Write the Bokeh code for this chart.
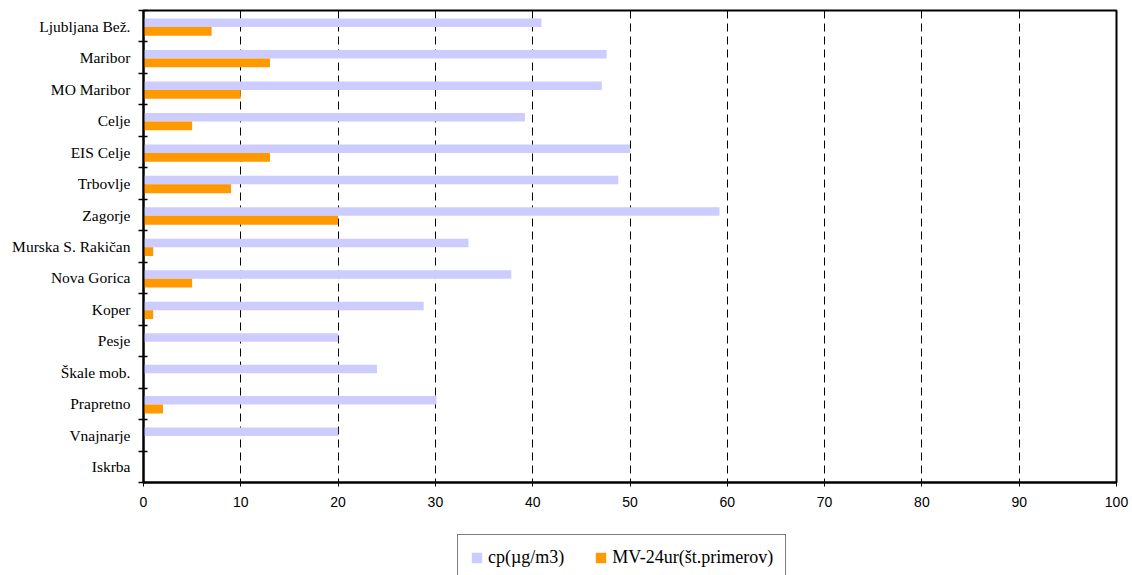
from bokeh.plotting import figure
from bokeh.layouts import column
from bokeh.models import Range1d, FixedTicker, Legend, LegendItem, ColumnDataSource
from bokeh.transform import dodge
from bokeh.embed import file_html
from bokeh.resources import INLINE

stations = ["Ljubljana Bež.", "Maribor", "MO Maribor", "Celje", "EIS Celje", "Trbovlje",
            "Zagorje", "Murska S. Rakičan", "Nova Gorica", "Koper", "Pesje", "Škale mob.",
            "Prapretno", "Vnajnarje", "Iskrba"]
cp = [40.9, 47.6, 47.1, 39.2, 50.0, 48.8, 59.2, 33.4, 37.8, 28.8, 20.0, 24.0, 30.1, 20.0, 0.0]
mv = [7, 13, 10, 5, 13, 9, 20, 1, 5, 1, 0, 0, 2, 0, 0]
x_ticks = [0, 10, 20, 30, 40, 50, 60, 70, 80, 90, 100]
series_labels = ["cp(µg/m3)", "MV-24ur(št.primerov)"]
colors = ["#CCCCFF", "#FF9900"]

n = len(stations)
ypos = list(range(n))
src = ColumnDataSource(dict(station=stations, y=ypos, cp=cp, mv=mv))

p = figure(width=1132, height=530, output_backend="svg", toolbar_location=None,
           x_range=Range1d(0, 100), y_range=Range1d(n - 0.5, -0.5),
           min_border_left=143, min_border_right=16, min_border_top=10, min_border_bottom=48,
           background_fill_color="white", border_fill_color="white")

r1 = p.hbar(y=dodge("y", -0.11, range=p.y_range), right="cp", left=0, height=0.27,
            source=src, fill_color=colors[0], line_color=None)
r2 = p.hbar(y=dodge("y", 0.165, range=p.y_range), right="mv", left=0, height=0.28,
            source=src, fill_color=colors[1], line_color=None)

# x axis
p.xaxis.ticker = FixedTicker(ticks=x_ticks)
p.xaxis.major_tick_in = 0
p.xaxis.major_tick_out = 4
p.xaxis.minor_tick_line_color = None
p.xaxis.major_label_standoff = 10
p.xaxis.major_label_text_font = "Liberation Sans"
p.xaxis.major_label_text_font_size = "14px"
p.xaxis.major_label_text_color = "black"
p.xaxis.axis_line_width = 2
p.xaxis.axis_line_color = "black"
p.xaxis.major_tick_line_color = "black"

# y axis
p.yaxis.ticker = FixedTicker(ticks=ypos, minor_ticks=[i - 0.5 for i in range(n + 1)])
p.yaxis.major_label_overrides = {i: s for i, s in zip(ypos, stations)}
p.yaxis.major_tick_in = 0
p.yaxis.major_tick_out = 0
p.yaxis.minor_tick_in = 4
p.yaxis.minor_tick_out = 5
p.yaxis.minor_tick_line_color = "black"
p.yaxis.minor_tick_line_width = 1.5
p.yaxis.major_label_standoff = 8
p.yaxis.major_label_text_font = "Liberation Serif"
p.yaxis.major_label_text_font_size = "15.5px"
p.yaxis.major_label_text_color = "black"
p.yaxis.axis_line_width = 2
p.yaxis.axis_line_color = "black"

# grid
p.xgrid.ticker = FixedTicker(ticks=x_ticks)
p.xgrid.grid_line_color = "black"
p.xgrid.grid_line_dash = "8 5"
p.xgrid.grid_line_width = 1
p.ygrid.visible = False

p.outline_line_color = "black"
p.outline_line_width = 2

# legend strip below the chart (same frame alignment as the chart)
pl = figure(width=1132, height=45, output_backend="svg", toolbar_location=None,
            x_range=Range1d(0, 1), y_range=Range1d(0, 1),
            min_border_left=143, min_border_right=16, min_border_top=0, min_border_bottom=0,
            background_fill_color="white", border_fill_color="white")
pl.axis.visible = False
pl.grid.visible = False
pl.outline_line_color = None
# proxy renderers (kept outside the visible range) that only provide legend swatches
d1 = pl.hbar(y=[-5], right=[-5], left=-6, height=0.5, fill_color=colors[0], line_color=None)
d2 = pl.hbar(y=[-5], right=[-5], left=-6, height=0.5, fill_color=colors[1], line_color=None)

legend = Legend(items=[LegendItem(label=series_labels[0], renderers=[d1]),
                       LegendItem(label=series_labels[1], renderers=[d2])],
                orientation="horizontal", location=(314, -6), margin=0,
                glyph_width=13, glyph_height=13, label_standoff=5, spacing=30,
                padding=12, label_height=20, label_text_font="Liberation Serif",
                label_text_font_size="18px",
                label_text_color="black", border_line_color="black", border_line_width=1,
                background_fill_color="white", background_fill_alpha=1.0)
pl.add_layout(legend, "center")

layout = column(p, pl, spacing=0)
open("out.html", "w").write(file_html(layout, INLINE))
